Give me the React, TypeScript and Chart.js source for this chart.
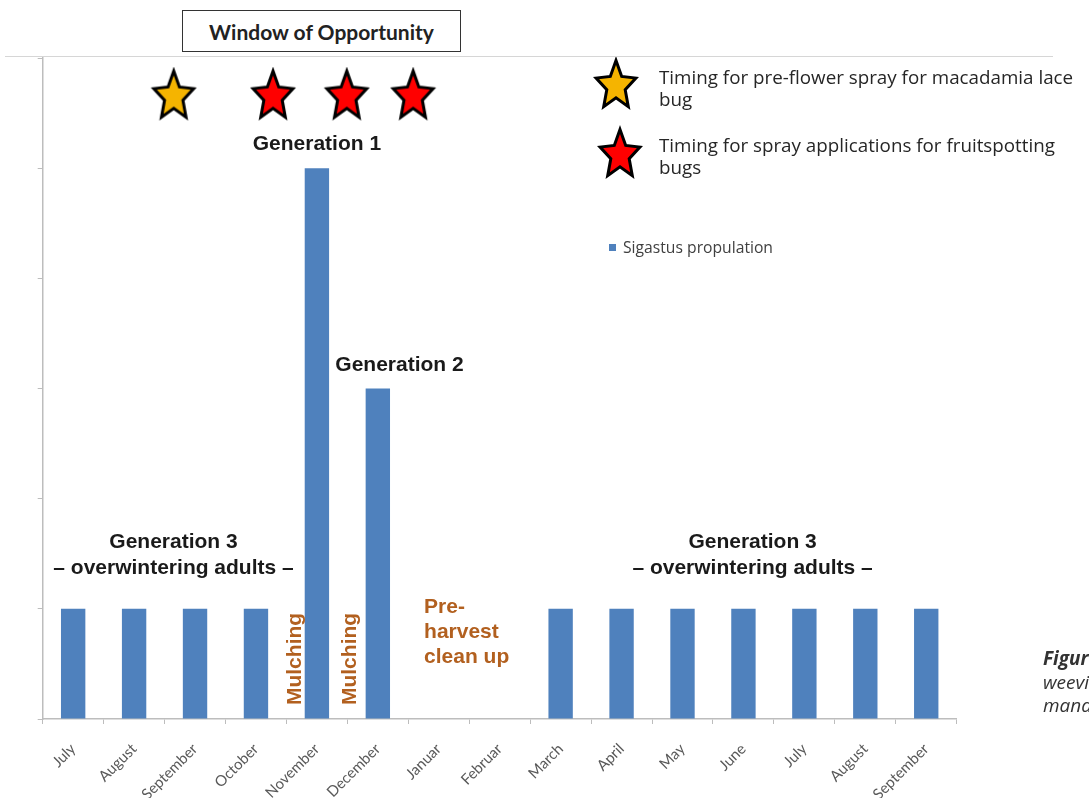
import React, { useEffect, useRef } from 'react';
import { Chart, registerables } from 'chart.js';

Chart.register(...registerables);

// ---- data ----
const months = [
  'July', 'August', 'September', 'October', 'November', 'December', 'Januar', 'Februar',
  'March', 'April', 'May', 'June', 'July', 'August', 'September',
];
const population = [1, 1, 1, 1, 5, 3, 0, 0, 1, 1, 1, 1, 1, 1, 1];
const yMin = 0;
const yMax = 6;
const yStep = 1;
// star markers (position along month axis, fractional index) and their level
const laceBugStarX = [1.65];
const fruitspottingStarX = [3.28, 4.49, 5.58];
const starLevel = 5.65;

const BLUE = '#4f81bd';
const BROWN = '#b2601f';
const AXIS = '#bdbdbd';

function makeStar(fill: string): HTMLCanvasElement {
  const R = 25.5;
  const r = 11.8;
  const sx = 0.82;
  const w = 52;
  const h = 60;
  const c = document.createElement('canvas');
  c.width = w;
  c.height = h;
  const ctx = c.getContext('2d')!;
  ctx.translate(w / 2, h / 2);
  ctx.beginPath();
  for (let k = 0; k < 10; k++) {
    const rad = k % 2 === 0 ? R : r;
    const a = -Math.PI / 2 + (k * Math.PI) / 5;
    const x = Math.cos(a) * rad * sx;
    const y = Math.sin(a) * rad;
    if (k === 0) ctx.moveTo(x, y);
    else ctx.lineTo(x, y);
  }
  ctx.closePath();
  ctx.fillStyle = fill;
  ctx.fill();
  ctx.lineWidth = 3;
  ctx.lineJoin = 'miter';
  ctx.strokeStyle = '#000';
  ctx.stroke();
  return c;
}

export default function App() {
  const canvasRef = useRef<HTMLCanvasElement | null>(null);

  useEffect(() => {
    const canvas = canvasRef.current;
    if (!canvas) return;
    const yellowStar = makeStar('#f5b400');
    const redStar = makeStar('#ff0000');

    const annotPlugin = {
      id: 'annotations',
      afterDraw(chart: any) {
        const ctx = chart.ctx as CanvasRenderingContext2D;
        const xs = chart.scales.x2;
        const ys = chart.scales.y;
        const X = (v: number) => xs.getPixelForValue(v);
        const Y = (v: number) => ys.getPixelForValue(v);
        ctx.save();
        // legend stars
        ctx.drawImage(yellowStar, 616 - yellowStar.width / 2, 86 - yellowStar.height / 2);
        ctx.drawImage(redStar, 620 - redStar.width / 2, 155 - redStar.height / 2);

        ctx.font = 'bold 21px "Liberation Sans", Arial, sans-serif';
        ctx.fillStyle = '#1a1a1a';
        ctx.textAlign = 'center';
        ctx.textBaseline = 'middle';
        ctx.fillText('Generation 1', X(4.0), Y(5.22));
        ctx.fillText('Generation 2', X(5.356), Y(3.213));
        ctx.fillText('Generation 3', X(1.647), Y(1.607));
        ctx.fillText('\u2013 overwintering adults \u2013', X(1.647), Y(1.371));
        ctx.fillText('Generation 3', X(11.15), Y(1.607));
        ctx.fillText('\u2013 overwintering adults \u2013', X(11.15), Y(1.371));

        ctx.fillStyle = BROWN;
        const mulch = [3.64, 4.54];
        mulch.forEach((mx) => {
          ctx.save();
          ctx.translate(X(mx), Y(0.545));
          ctx.rotate(-Math.PI / 2);
          ctx.fillText('Mulching', 0, 0);
          ctx.restore();
        });
        ctx.textAlign = 'left';
        ctx.fillText('Pre-', X(5.759), Y(1.017));
        ctx.fillText('harvest', X(5.759), Y(0.79));
        ctx.fillText('clean up', X(5.759), Y(0.563));
        ctx.restore();
      },
    };

    const chart = new Chart(canvas, {
      type: 'bar',
      data: {
        labels: months,
        datasets: [
          {
            type: 'bar',
            label: 'Sigastus propulation',
            data: population,
            backgroundColor: BLUE,
            borderWidth: 0,
            grouped: false,
            barPercentage: 0.4,
            categoryPercentage: 1,
          } as any,
          {
            type: 'scatter',
            label: 'Timing for pre-flower spray for macadamia lace bug',
            data: laceBugStarX.map((x) => ({ x, y: starLevel })),
            xAxisID: 'x2',
            yAxisID: 'y',
            pointStyle: yellowStar,
            pointRadius: 20,
            showLine: false,
          } as any,
          {
            type: 'scatter',
            label: 'Timing for spray applications for fruitspotting bugs',
            data: fruitspottingStarX.map((x) => ({ x, y: starLevel })),
            xAxisID: 'x2',
            yAxisID: 'y',
            pointStyle: redStar,
            pointRadius: 20,
            showLine: false,
          } as any,
        ],
      },
      options: {
        responsive: false,
        animation: false,
        devicePixelRatio: 1,
        layout: { padding: { left: 37.7, right: 132.3, top: 58, bottom: 0 } },
        plugins: { legend: { display: false }, tooltip: { enabled: false } },
        scales: {
          x: {
            type: 'category',
            offset: true,
            grid: { offset: true, drawOnChartArea: false, drawTicks: true, tickLength: 5, color: AXIS },
            border: { color: AXIS, width: 1.5 },
            ticks: {
              autoSkip: false,
              minRotation: 45,
              maxRotation: 45,
              color: '#595959',
              padding: 16,
              font: { family: 'Lato, "Open Sans", sans-serif', size: 15 },
            },
            afterFit: (s: any) => {
              s.height = 79;
            },
          },
          x2: {
            type: 'linear',
            display: false,
            min: -0.5,
            max: 14.5,
            offset: false,
          },
          y: {
            min: yMin,
            max: yMax,
            ticks: { stepSize: yStep, display: false },
            grid: { drawOnChartArea: false, drawTicks: true, tickLength: 5, color: AXIS },
            border: { color: AXIS, width: 1.5 },
            afterFit: (s: any) => {
              s.width = 5;
            },
          },
        } as any,
      },
      plugins: [annotPlugin],
    } as any);

    return () => chart.destroy();
  }, []);

  const legendText: React.CSSProperties = {
    position: 'absolute',
    fontFamily: '"Open Sans", sans-serif',
    fontSize: 18.8,
    lineHeight: '22px',
    color: '#262626',
    whiteSpace: 'nowrap',
  };

  return (
    <div
      style={{
        position: 'absolute',
        left: 0,
        top: 0,
        width: 1089,
        height: 798,
        overflow: 'hidden',
        background: '#fff',
      }}
    >
      <canvas ref={canvasRef} width={1089} height={798} style={{ position: 'absolute', left: 0, top: 0 }} />
      <div style={{ position: 'absolute', left: 5, top: 56, width: 1048, height: 1, background: '#d6d6d6' }} />
      <div
        style={{
          position: 'absolute',
          left: 182,
          top: 10,
          width: 277,
          height: 40,
          border: '1px solid #333',
          display: 'flex',
          alignItems: 'center',
          justifyContent: 'center',
          fontFamily: 'Lato, sans-serif',
          fontWeight: 700,
          fontSize: 21,
          color: '#222',
          background: '#fff',
        }}
      >
        Window of Opportunity
      </div>
      <div style={{ ...legendText, left: 659, top: 66 }}>
        Timing for pre-flower spray for macadamia lace
        <br />
        bug
      </div>
      <div style={{ ...legendText, left: 659, top: 134 }}>
        Timing for spray applications for fruitspotting
        <br />
        bugs
      </div>
      <div style={{ position: 'absolute', left: 609, top: 244, width: 7, height: 7, background: BLUE }} />
      <div
        style={{
          position: 'absolute',
          left: 623,
          top: 237,
          fontFamily: '"Open Sans", sans-serif',
          fontSize: 15.7,
          lineHeight: '20px',
          color: '#404040',
          whiteSpace: 'nowrap',
        }}
      >
        Sigastus propulation
      </div>
      <div
        style={{
          position: 'absolute',
          left: 1043,
          top: 647,
          fontFamily: '"Open Sans", sans-serif',
          fontSize: 19,
          lineHeight: '23.5px',
          color: '#333',
          fontStyle: 'italic',
          whiteSpace: 'nowrap',
        }}
      >
        <b>Figure 1.</b> Sigastus
        <br />
        weevil lifecycle and
        <br />
        management timing
      </div>
    </div>
  );
}
